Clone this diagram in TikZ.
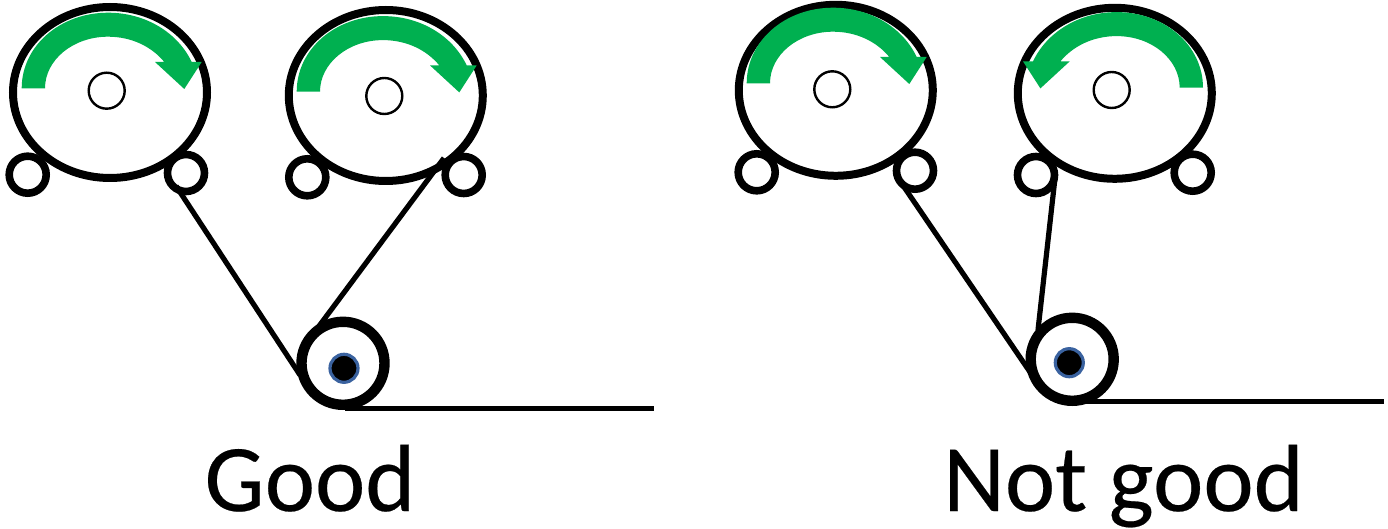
\documentclass[tikz,border=0pt]{standalone}
\usepackage{fontspec}
\setmainfont{Carlito}
\definecolor{arrowgreen}{HTML}{00B050}
\definecolor{hubblue}{HTML}{3A629F}
\tikzset{
  px/.style={x=0.5pt,y=-0.5pt},
  drum/.style={draw=black,line width=4pt,fill=white},
  idler/.style={circle,draw=black,line width=3.8pt,fill=white,inner sep=0pt,minimum size=18.5pt},
  axle/.style={circle,draw=black,line width=1.2pt,fill=white,inner sep=0pt,minimum size=18pt},
  roll/.style={circle,draw=black,line width=5.2pt,fill=white,inner sep=0pt,minimum size=41.5pt},
  hub/.style={circle,draw=hubblue,line width=1.6pt,fill=black,inner sep=0pt,minimum size=14pt},
  web/.style={draw=black,line width=2.6pt},
  turn/.style={fill=arrowgreen,draw=none},
  caption/.style={font=\fontsize{47.7pt}{50pt}\selectfont\addfontfeature{FakeBold=0.25},text=black,inner sep=0pt,anchor=base}
}
\newcommand{\turnarrow}{%
  \path[turn] (21.7,88.3) .. controls (21.7,46) and (60,12.7) .. (108,12.7)
    .. controls (146,12.7) and (178,33) .. (191.7,62)
    -- (201.7,62) -- (184.3,89) -- (155,62) -- (164.3,62)
    .. controls (152,47) and (132,36.7) .. (108,36.7)
    .. controls (73,36.7) and (45,60) .. (45,88.3) -- cycle;}
\begin{document}
\begin{tikzpicture}[px]
\useasboundingbox (0,0) rectangle (1388,529);
% Left group
\path[drum] (110,92.5) ellipse [x radius=97,y radius=85.5];
\node[idler] (a1) at (27.7,174.7) {};
\node[idler] (a2) at (186,173) {};
\node[axle] (a3) at (106.7,90.7) {};
\turnarrow
\path[drum] (385.8,95.5) ellipse [x radius=97,y radius=85.5];
\node[idler] (b1) at (307.3,177.3) {};
\node[idler] (b2) at (463.7,175) {};
\node[axle] (b3) at (384.3,96) {};
\begin{scope}[shift={(275,3.4)}]\turnarrow\end{scope}
\node[roll] (r1) at (343,363.3) {};
\node[hub] (h1) at (344,368.3) {};
\coordinate (p1) at (176,186);
\coordinate (p2) at (300,375);
\coordinate (p3) at (444,158);
\coordinate (p4) at (305,345);
\coordinate (p5) at (345,408.5);
\coordinate (p6) at (654,408.5);
\draw[web] (p1) -- (p2);
\draw[web] (p3) -- (p4);
\draw[web] (p5) -- (p6);
\node[caption] (t1) at (310,511) {Good};
% Right group
\path[drum] (835.8,90.3) ellipse [x radius=97,y radius=85.5];
\node[idler] (c1) at (756.7,172.3) {};
\node[idler] (c2) at (915,170.7) {};
\node[axle] (c3) at (832.3,89.3) {};
\begin{scope}[shift={(725,-5)}]\turnarrow\end{scope}
\path[drum] (1114.8,93.3) ellipse [x radius=97,y radius=85.5];
\node[idler] (d1) at (1036,175) {};
\node[idler] (d2) at (1192.7,172.7) {};
\node[axle] (d3) at (1111.7,90) {};
\begin{scope}[shift={(1224.7,-0.6)},xscale=-1]\turnarrow\end{scope}
\node[roll] (r2) at (1072.2,359.3) {};
\node[hub] (h2) at (1069.3,362.7) {};
\coordinate (q1) at (902,184);
\coordinate (q2) at (1030,372);
\coordinate (q3) at (1055,178);
\coordinate (q4) at (1038,330);
\coordinate (q5) at (1080,401.5);
\coordinate (q6) at (1384,401.5);
\draw[web] (q1) -- (q2);
\draw[web] (q3) -- (q4);
\draw[web] (q5) -- (q6);
\node[caption] (t2) at (1123.5,511) {Not good};
\end{tikzpicture}
\end{document}
